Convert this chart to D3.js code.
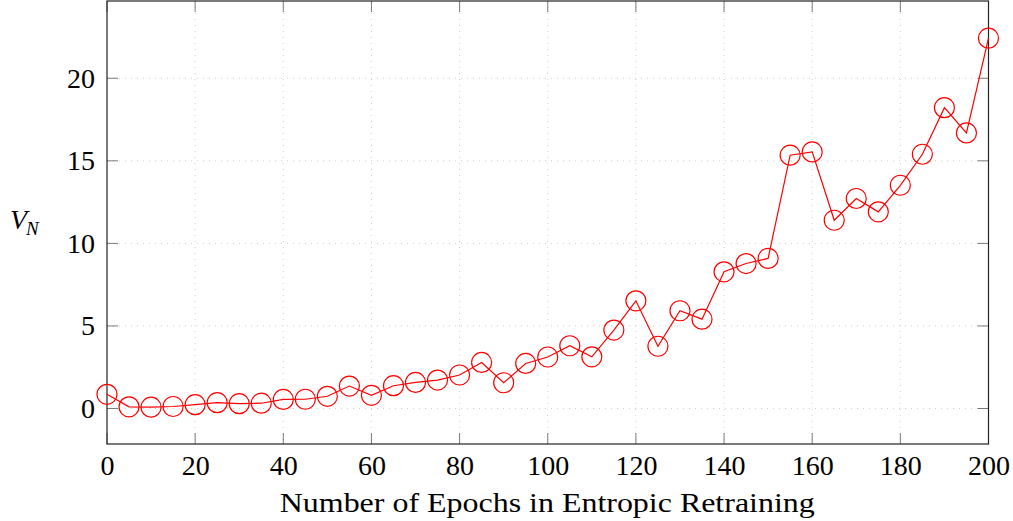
<!DOCTYPE html>
<html>
<head>
<meta charset="utf-8">
<script src="https://cdn.jsdelivr.net/npm/d3@7"></script>
<style>
  html, body { margin: 0; padding: 0; background: #fff; }
  svg { display: block; }
  text { font-family: "Liberation Serif", "DejaVu Serif", serif; fill: #000; }
</style>
</head>
<body>
<svg id="chart" width="1013" height="521"></svg>
<script>
// Epochs of entropic retraining (every 5 epochs)
const epochs = [0, 5, 10, 15, 20, 25, 30, 35, 40, 45, 50, 55, 60, 65, 70, 75, 80, 85, 90, 95,
                100, 105, 110, 115, 120, 125, 130, 135, 140, 145, 150, 155, 160, 165, 170, 175,
                180, 185, 190, 195, 200];
// V_N measured at each epoch
const vN = [0.86, 0.10, 0.08, 0.12, 0.23, 0.35, 0.29, 0.32, 0.55, 0.56, 0.74, 1.36, 0.80, 1.38,
            1.58, 1.72, 2.03, 2.79, 1.56, 2.73, 3.12, 3.80, 3.13, 4.75, 6.52, 3.77, 5.92, 5.41,
            8.28, 8.78, 9.09, 15.34, 15.54, 11.40, 12.72, 11.91, 13.52, 15.40, 18.22, 16.69, 22.43];
const xTicks = [0, 20, 40, 60, 80, 100, 120, 140, 160, 180, 200];
const yTicks = [0, 5, 10, 15, 20];

const svg = d3.select("#chart");
const plotL = 107, plotR = 988.5, plotT = 1, plotB = 444;

const x = d3.scaleLinear().domain([0, 200]).range([plotL, plotR]);
const y = d3.scaleLinear().domain([-2.15, 24.68]).range([plotB, plotT]);

// dotted grid
const grid = svg.append("g").attr("stroke", "#cfcfcf").attr("stroke-width", 1)
  .attr("stroke-dasharray", "1,5");
grid.selectAll("line.v").data(xTicks.slice(1, -1)).join("line").attr("class", "v")
  .attr("x1", d => x(d)).attr("x2", d => x(d)).attr("y1", plotT).attr("y2", plotB);
grid.selectAll("line.h").data(yTicks).join("line").attr("class", "h")
  .attr("x1", plotL).attr("x2", plotR).attr("y1", d => y(d)).attr("y2", d => y(d));

// inward tick marks on all four sides
const ticks = svg.append("g").attr("stroke", "#7a7a7a").attr("stroke-width", 1);
xTicks.forEach(t => {
  ticks.append("line").attr("x1", x(t)).attr("x2", x(t)).attr("y1", plotB).attr("y2", plotB - 11);
  ticks.append("line").attr("x1", x(t)).attr("x2", x(t)).attr("y1", plotT).attr("y2", plotT + 11);
});
yTicks.forEach(t => {
  ticks.append("line").attr("x1", plotL).attr("x2", plotL + 11).attr("y1", y(t)).attr("y2", y(t));
  ticks.append("line").attr("x1", plotR).attr("x2", plotR - 11).attr("y1", y(t)).attr("y2", y(t));
});

// frame
svg.append("rect").attr("x", plotL).attr("y", plotT).attr("width", plotR - plotL).attr("height", plotB - plotT)
  .attr("fill", "none").attr("stroke", "#222").attr("stroke-width", 1.2);

// tick labels via d3 axes (tick lines drawn above)
const xAxis = svg.append("g").attr("transform", `translate(0,${plotB})`)
  .call(d3.axisBottom(x).tickValues(xTicks).tickSize(0).tickPadding(11));
xAxis.select(".domain").remove();
xAxis.selectAll("text").attr("font-size", 28).attr("fill", "#000")
  .attr("textLength", d => String(d).length * 14).attr("lengthAdjust", "spacingAndGlyphs");

const yAxis = svg.append("g").attr("transform", `translate(${plotL},0)`)
  .call(d3.axisLeft(y).tickValues(yTicks).tickSize(0).tickPadding(12));
yAxis.select(".domain").remove();
yAxis.selectAll("text").attr("font-size", 28).attr("fill", "#000")
  .attr("textLength", d => String(d).length * 14).attr("lengthAdjust", "spacingAndGlyphs");

svg.append("text").attr("x", (plotL + plotR) / 2 - 0.5).attr("y", 512)
  .attr("text-anchor", "middle").attr("font-size", 27)
  .attr("textLength", 535).attr("lengthAdjust", "spacingAndGlyphs")
  .text("Number of Epochs in Entropic Retraining");

const yl = svg.append("text").attr("x", 10).attr("y", 229).attr("font-size", 28).attr("font-style", "italic");
yl.append("tspan").text("V");
yl.append("tspan").attr("font-size", 19).attr("dy", 6).attr("dx", -1).text("N");

// series
const pts = epochs.map((e, i) => [e, vN[i]]);
svg.append("path").datum(pts)
  .attr("fill", "none").attr("stroke", "#ff0000").attr("stroke-width", 1.2)
  .attr("d", d3.line().x(d => x(d[0])).y(d => y(d[1])));
svg.append("g").selectAll("circle").data(pts).join("circle")
  .attr("cx", d => x(d[0])).attr("cy", d => y(d[1])).attr("r", 10)
  .attr("fill", "none").attr("stroke", "#ff0000").attr("stroke-width", 1.2);
</script>
</body>
</html>
